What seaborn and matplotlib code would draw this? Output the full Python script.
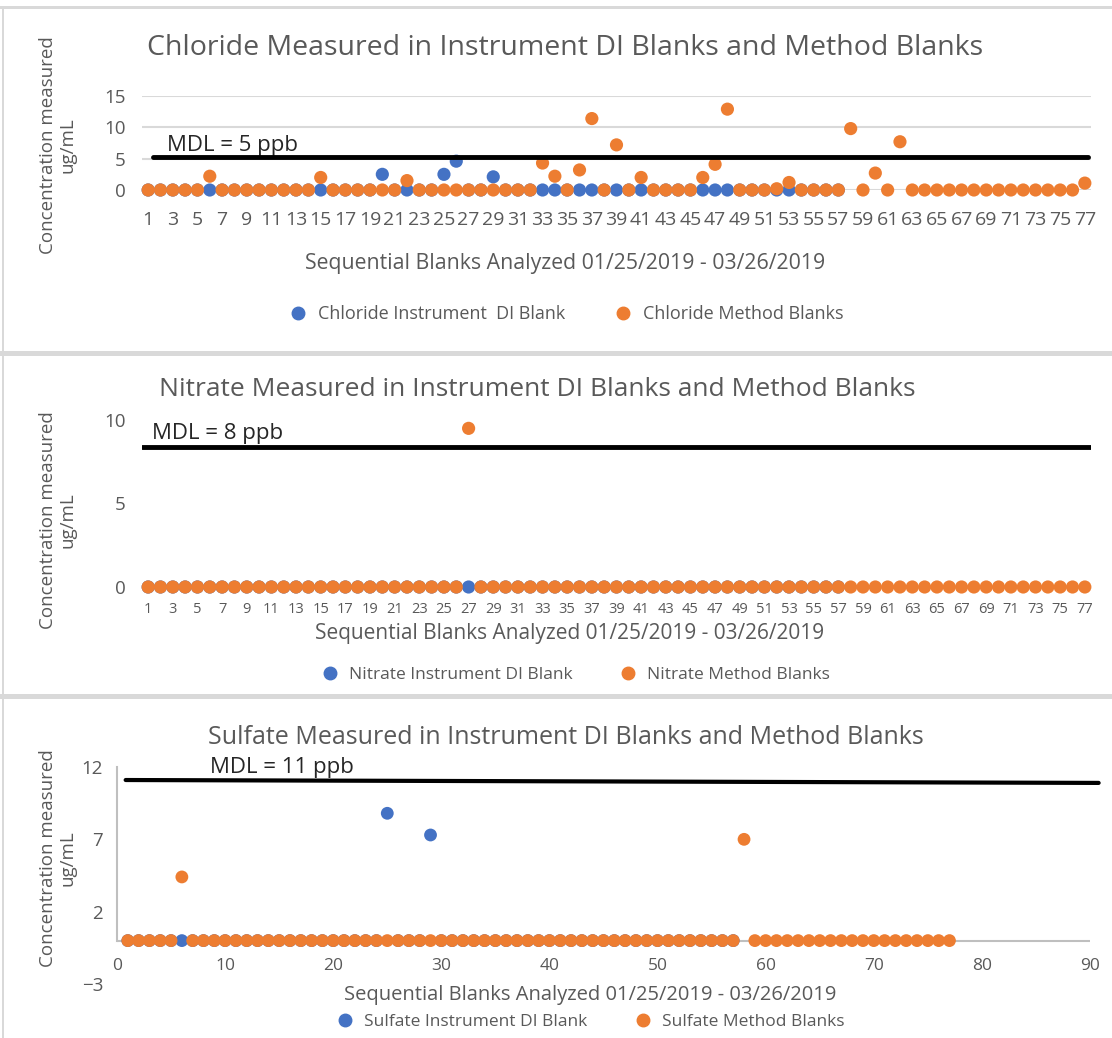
import numpy as np
import pandas as pd
import seaborn as sns
import matplotlib.pyplot as plt
from matplotlib.lines import Line2D
from matplotlib.patches import Rectangle

# ---- data ----
blanks = list(range(1, 78))          # sequential blank number (1..77)
n_di = 57                            # DI blanks only run to blank 57

cl_di = [0.0] * n_di
cl_di_hits = {20: 2.5, 25: 2.5, 26: 4.6, 29: 2.1}
cl_method = [0.0] * 77
cl_method_hits = {6: 2.2, 15: 2.0, 22: 1.5, 33: 4.3, 34: 2.2, 36: 3.2, 37: 11.4,
                  39: 7.2, 41: 2.0, 46: 2.0, 47: 4.1, 48: 12.9, 52: 0.2, 53: 1.2,
                  58: 9.8, 60: 2.7, 62: 7.7, 77: 1.1}

no3_di = [0.0] * n_di
no3_method = [0.0] * 77
no3_method_hits = {27: 9.5}

so4_di = [0.0] * n_di
so4_di_hits = {25: 8.8, 29: 7.3}
so4_method = [0.0] * 77
so4_method_hits = {6: 4.4, 58: 7.0}

for k, v in cl_di_hits.items():
    cl_di[k - 1] = v
for k, v in cl_method_hits.items():
    cl_method[k - 1] = v
for k, v in no3_method_hits.items():
    no3_method[k - 1] = v
for k, v in so4_di_hits.items():
    so4_di[k - 1] = v
for k, v in so4_method_hits.items():
    so4_method[k - 1] = v

mdl_labels = ['MDL = 5 ppb', 'MDL = 8 ppb', 'MDL = 11 ppb']
mdl_lines = [5.2, 8.4, 11.1]

BLUE = '#4472C4'
ORANGE = '#ED7D31'
GREY = '#595959'
GRID = '#D9D9D9'


def long_df(di, method):
    a = pd.DataFrame({'blank': blanks[:len(di)], 'conc': di, 'series': 'di'})
    b = pd.DataFrame({'blank': blanks, 'conc': method, 'series': 'method'})
    return pd.concat([a, b], ignore_index=True)


sns.set_style('white')
plt.rcParams['font.family'] = ['Open Sans', 'DejaVu Sans']

W, H = 1112, 1038
fig = plt.figure(figsize=(W / 100, H / 100), dpi=100)


def fx(px):
    return px / W


def fy(py):
    return 1 - py / H


def box(x0, y0, x1, y1):
    return [fx(x0), fy(y1), fx(x1 - x0), (y1 - y0) / H]


# panel frames
for y0, y1 in [(6, 9), (351, 356), (694, 699)]:
    fig.add_artist(Rectangle((0, fy(y1)), 1, (y1 - y0) / H, color=GRID, lw=0))
fig.add_artist(Rectangle((fx(2), 0), 2 / W, fy(8), color=GRID, lw=0))

ylab = 'Concentration measured\nug/mL'
xlab = 'Sequential Blanks Analyzed 01/25/2019 - 03/26/2019'


def draw(ax, df, s):
    sns.scatterplot(data=df, x='blank', y='conc', hue='series',
                    palette={'di': BLUE, 'method': ORANGE}, s=s, linewidth=0,
                    legend=False, ax=ax, clip_on=False, zorder=3)
    ax.set_xlabel('')
    ax.set_ylabel('')
    for sp in ax.spines.values():
        sp.set_visible(False)
    ax.tick_params(length=0, colors=GREY)


def legend(name, x, y, size, spacing):
    h = [Line2D([], [], ls='', marker='o', color=BLUE, ms=9),
         Line2D([], [], ls='', marker='o', color=ORANGE, ms=9)]
    first = f'{name} Instrument  DI Blank' if name == 'Chloride' else f'{name} Instrument DI Blank'
    fig.legend(h, [first, f'{name} Method Blanks'],
               loc='center', bbox_to_anchor=(fx(x), fy(y)), ncol=2, frameon=False,
               fontsize=size, labelcolor=GREY, handletextpad=0.1, columnspacing=spacing)


# ---------------- Chloride ----------------
ax1 = fig.add_axes(box(142, 96, 1091, 190))
draw(ax1, long_df(cl_di, cl_method), 90)
ax1.set_xlim(0.5, 77.5)
ax1.set_ylim(0, 15)
ax1.set_yticks([0, 5, 10, 15])
ax1.yaxis.grid(True, color=GRID, lw=1.5)
ax1.set_axisbelow(True)
ax1.set_xticks(blanks[::2])
ax1.tick_params(axis='x', labelsize=14, pad=15)
ax1.tick_params(axis='y', labelsize=13.5, pad=12)
ax1.axhline(mdl_lines[0], xmin=0.012, xmax=0.997, color='black', lw=3.5, zorder=4)
ax1.text(2.5, mdl_lines[0] + 0.3, mdl_labels[0], fontsize=16, va='bottom')
fig.text(fx(565), fy(48), 'Chloride Measured in Instrument DI Blanks and Method Blanks',
         ha='center', va='center', fontsize=20.5, color=GREY)
fig.text(fx(565), fy(263), xlab, ha='center', va='center', fontsize=15.3, color=GREY)
fig.text(fx(58), fy(145), ylab, ha='center', va='center', rotation=90,
         fontsize=13.5, color=GREY, linespacing=1.1)
legend('Chloride', 562, 314, 13, 2.2)

# ---------------- Nitrate ----------------
ax2 = fig.add_axes(box(142, 420, 1091, 587))
draw(ax2, long_df(no3_di, no3_method), 90)
ax2.set_xlim(0.5, 77.5)
ax2.set_ylim(0, 10)
ax2.set_yticks([0, 5, 10])
ax2.set_xticks(blanks[::2])
ax2.tick_params(axis='x', labelsize=10.5, pad=11)
ax2.tick_params(axis='y', labelsize=13.5, pad=12)
ax2.axhline(mdl_lines[1], xmin=0.0, xmax=1.0, color='black', lw=3.5, zorder=4)
ax2.text(1.3, mdl_lines[1] + 0.15, mdl_labels[1], fontsize=16, va='bottom')
fig.text(fx(537), fy(390), 'Nitrate Measured in Instrument DI Blanks and Method Blanks',
         ha='center', va='center', fontsize=19, color=GREY)
fig.text(fx(570), fy(634), xlab, ha='center', va='center', fontsize=15, color=GREY)
fig.text(fx(58), fy(520), ylab, ha='center', va='center', rotation=90,
         fontsize=13.5, color=GREY, linespacing=1.1)
legend('Nitrate', 571, 675, 12.5, 2.2)

# ---------------- Sulfate ----------------
ax3 = fig.add_axes(box(117, 767, 1090, 984))
draw(ax3, long_df(so4_di, so4_method), 85)
ax3.set_xlim(0, 90)
ax3.set_ylim(-3, 12)
ax3.set_yticks([-3, 2, 7, 12])
ax3.set_xticks(range(0, 91, 10))
ax3.axhline(0, color='#BFBFBF', lw=1.5, zorder=1)
ax3.spines['left'].set_visible(True)
ax3.spines['left'].set_color('#BFBFBF')
ax3.spines['left'].set_linewidth(1.5)
ax3.spines['left'].set_bounds(0, 12)
ax3.tick_params(axis='x', labelsize=12.5, pad=-19)
ax3.tick_params(axis='y', labelsize=13.5, pad=10)
ax3.plot([0.8, 90.8], [mdl_lines[2], mdl_lines[2] - 0.2], color='black', lw=3, clip_on=False, zorder=4)
ax3.text(8.6, mdl_lines[2] + 0.15, mdl_labels[2], fontsize=16, va='bottom')
fig.text(fx(566), fy(737), 'Sulfate Measured in Instrument DI Blanks and Method Blanks',
         ha='center', va='center', fontsize=18, color=GREY)
fig.text(fx(590), fy(995), xlab, ha='center', va='center', fontsize=14.5, color=GREY)
fig.text(fx(58), fy(858), ylab, ha='center', va='center', rotation=90,
         fontsize=13.5, color=GREY, linespacing=1.1)
legend('Sulfate', 586, 1022, 12.5, 2.2)

fig.savefig('out.png', dpi=100)
